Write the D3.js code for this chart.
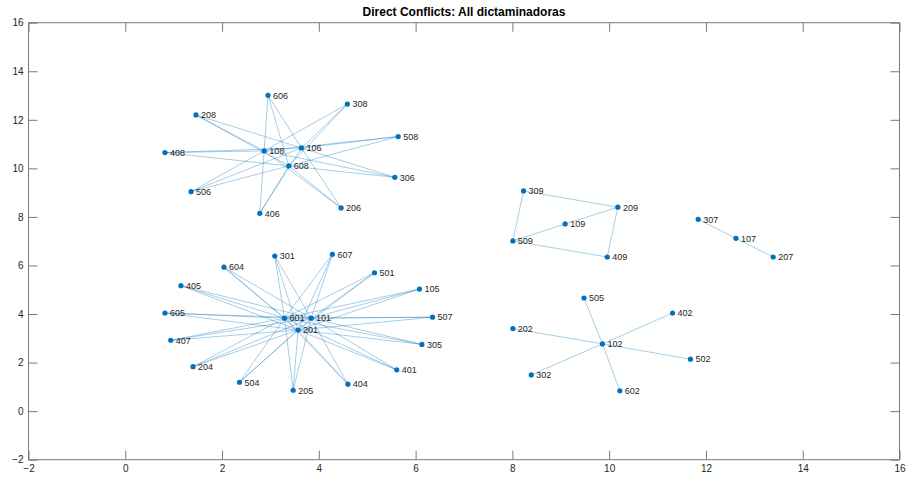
<!DOCTYPE html>
<html>
<head>
<meta charset="utf-8">
<script src="https://cdn.jsdelivr.net/npm/d3@7"></script>
<style>
  body { margin: 0; background: #fff; }
  text { font-family: "Liberation Sans", Arial, sans-serif; }
</style>
</head>
<body>
<div id="chart"></div>
<script>
// Graph nodes (names and layout coordinates)
const nodeNames = [
  "606", "308", "208", "508", "408", "108", "106", "608", "306", "506", "406", "206",
  "301", "607", "604", "501", "405", "105", "605", "507", "601", "101", "201",
  "407", "305", "204", "401", "504", "404", "205",
  "309", "209", "109", "509", "409",
  "307", "107", "207",
  "505", "402", "202", "102", "502", "302", "602"
];
const nodeX = [
  2.95, 4.59, 1.46, 5.64, 0.82, 2.87, 3.64, 3.38, 5.57, 1.36, 2.78, 4.46,
  3.09, 4.28, 2.04, 5.15, 1.15, 6.08, 0.82, 6.35, 3.29, 3.84, 3.57,
  0.94, 6.13, 1.40, 5.61, 2.36, 4.60, 3.47,
  8.23, 10.18, 9.09, 8.01, 9.96,
  11.84, 12.62, 13.39,
  9.48, 11.31, 8.01, 9.86, 11.68, 8.39, 10.22
];
const nodeY = [
  13.01, 12.65, 12.20, 11.31, 10.65, 10.72, 10.84, 10.10, 9.63, 9.04, 8.15, 8.37,
  6.39, 6.46, 5.93, 5.70, 5.17, 5.03, 4.04, 3.87, 3.83, 3.83, 3.34,
  2.92, 2.75, 1.83, 1.70, 1.19, 1.11, 0.86,
  9.07, 8.40, 7.71, 7.01, 6.35,
  7.90, 7.12, 6.35,
  4.66, 4.04, 3.40, 2.77, 2.14, 1.49, 0.84
];

// Edges (direct conflicts), as pairs of node names
const edgeList = [
  ["108","606"],["108","308"],["108","208"],["108","508"],["108","408"],["108","306"],["108","506"],["108","406"],["108","206"],
  ["106","606"],["106","308"],["106","208"],["106","508"],["106","408"],["106","306"],["106","506"],["106","406"],["106","206"],
  ["608","606"],["608","308"],["608","208"],["608","508"],["608","408"],["608","306"],["608","506"],["608","406"],["608","206"],
  ["601","301"],["601","607"],["601","604"],["601","501"],["601","405"],["601","105"],["601","605"],["601","507"],
  ["601","407"],["601","305"],["601","204"],["601","401"],["601","504"],["601","404"],["601","205"],
  ["101","301"],["101","607"],["101","604"],["101","501"],["101","405"],["101","105"],["101","605"],["101","507"],
  ["101","407"],["101","305"],["101","204"],["101","401"],["101","504"],["101","404"],["101","205"],
  ["201","301"],["201","607"],["201","604"],["201","501"],["201","405"],["201","105"],["201","605"],["201","507"],
  ["201","407"],["201","305"],["201","204"],["201","401"],["201","504"],["201","404"],["201","205"],
  ["309","209"],["309","509"],["509","109"],["109","209"],["509","409"],["409","209"],
  ["307","107"],["107","207"],
  ["102","505"],["102","402"],["102","202"],["102","502"],["102","302"],["102","602"]
];

const xTicks = [-2, 0, 2, 4, 6, 8, 10, 12, 14, 16];
const yTicks = [-2, 0, 2, 4, 6, 8, 10, 12, 14, 16];
const chartTitle = "Direct Conflicts: All dictaminadoras";

const width = 906;
const height = 481;
const margin = { top: 22.7, right: 6.5, bottom: 21.3, left: 28.5 };

const svg = d3.select("#chart")
  .append("svg")
  .attr("width", width)
  .attr("height", height);

const xScale = d3.scaleLinear()
  .domain([-2, 16])
  .range([margin.left, width - margin.right]);

const yScale = d3.scaleLinear()
  .domain([-2, 16])
  .range([height - margin.bottom, margin.top]);

const axisColor = "#262626";
const tickLen = 9;

function styleAxis(g) {
  g.select(".domain").remove();
  g.selectAll(".tick line").attr("stroke", "#7a7a7a").attr("stroke-width", 1);
  g.selectAll(".tick text").attr("fill", axisColor).style("font-size", "10px")
    .style("font-family", "'Liberation Sans', Arial, sans-serif");
}

svg.append("g")
  .attr("transform", `translate(0, ${height - margin.bottom})`)
  .call(d3.axisBottom(xScale).tickValues(xTicks).tickSize(-tickLen).tickSizeOuter(0).tickPadding(5))
  .call(styleAxis);

svg.append("g")
  .attr("transform", `translate(0, ${margin.top})`)
  .call(d3.axisTop(xScale).tickValues(xTicks).tickSize(-tickLen).tickSizeOuter(0).tickFormat(""))
  .call(styleAxis);

svg.append("g")
  .attr("transform", `translate(${margin.left}, 0)`)
  .call(d3.axisLeft(yScale).tickValues(yTicks).tickSize(-tickLen).tickSizeOuter(0).tickPadding(5))
  .call(styleAxis);

svg.append("g")
  .attr("transform", `translate(${width - margin.right}, 0)`)
  .call(d3.axisRight(yScale).tickValues(yTicks).tickSize(-tickLen).tickSizeOuter(0).tickFormat(""))
  .call(styleAxis);

// axes box
svg.append("rect")
  .attr("x", xScale(-2))
  .attr("y", yScale(16))
  .attr("width", xScale(16) - xScale(-2))
  .attr("height", yScale(-2) - yScale(16))
  .attr("fill", "none")
  .attr("stroke", "#7a7a7a")
  .attr("stroke-width", 1);

const nodes = nodeNames.map((name, i) => ({ name, x: nodeX[i], y: nodeY[i] }));
const byName = new Map(nodes.map(d => [d.name, d]));

svg.append("g")
  .selectAll("line")
  .data(edgeList)
  .enter()
  .append("line")
  .attr("x1", d => xScale(byName.get(d[0]).x))
  .attr("y1", d => yScale(byName.get(d[0]).y))
  .attr("x2", d => xScale(byName.get(d[1]).x))
  .attr("y2", d => yScale(byName.get(d[1]).y))
  .attr("stroke", "#0072BD")
  .attr("stroke-opacity", 0.5)
  .attr("stroke-width", 0.7);

svg.append("g")
  .selectAll("circle")
  .data(nodes)
  .enter()
  .append("circle")
  .attr("cx", d => xScale(d.x))
  .attr("cy", d => yScale(d.y))
  .attr("r", 2.6)
  .attr("fill", "#0072BD");

svg.append("g")
  .selectAll("text")
  .data(nodes)
  .enter()
  .append("text")
  .attr("x", d => xScale(d.x) + 5)
  .attr("y", d => yScale(d.y) + 3.3)
  .attr("fill", "#262626")
  .style("font-size", "9px")
  .text(d => d.name);

svg.append("text")
  .attr("x", (xScale(-2) + xScale(16)) / 2)
  .attr("y", 16)
  .attr("text-anchor", "middle")
  .attr("fill", "#000")
  .style("font-size", "12px")
  .style("font-weight", "bold")
  .text(chartTitle);
</script>
</body>
</html>
